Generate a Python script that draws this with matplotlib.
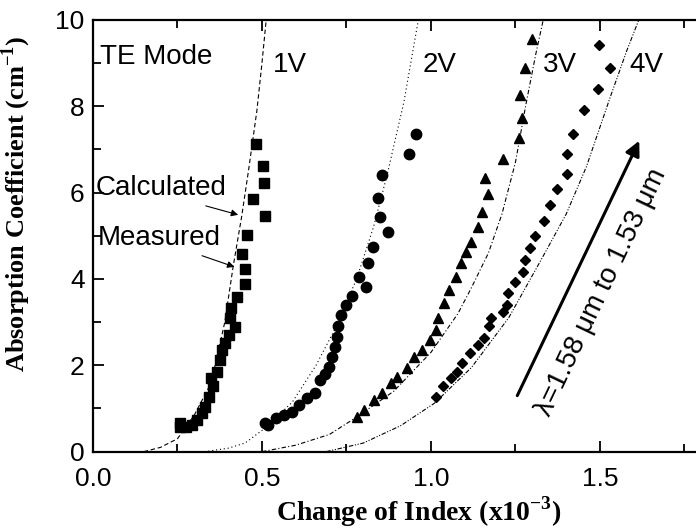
import matplotlib.pyplot as plt

# Measured absorption vs. index change, one series per bias voltage
n_1v = [0.258, 0.258, 0.275, 0.292, 0.309, 0.324, 0.332, 0.343, 0.355, 0.349, 0.366, 0.377,
        0.381, 0.390, 0.403, 0.419, 0.406, 0.408, 0.426, 0.449, 0.450, 0.441, 0.456, 0.509,
        0.474, 0.505, 0.502, 0.483]
a_1v = [0.66, 0.56, 0.58, 0.62, 0.73, 0.89, 1.04, 1.27, 1.51, 1.70, 1.85, 2.12,
        2.36, 2.51, 2.70, 2.88, 3.09, 3.32, 3.58, 3.88, 4.22, 4.58, 5.01, 5.47,
        5.85, 6.23, 6.62, 7.13]

n_2v = [0.508, 0.519, 0.542, 0.565, 0.588, 0.610, 0.633, 0.656, 0.673, 0.688, 0.699, 0.707,
        0.715, 0.722, 0.726, 0.735, 0.749, 0.765, 0.808, 0.786, 0.813, 0.828, 0.872, 0.849,
        0.843, 0.856, 0.934, 0.955]
a_2v = [0.66, 0.62, 0.77, 0.85, 0.93, 1.08, 1.24, 1.35, 1.66, 1.81, 1.97, 2.20,
        2.43, 2.66, 2.90, 3.17, 3.39, 3.61, 3.82, 4.05, 4.36, 4.75, 5.10, 5.44,
        5.88, 6.40, 6.90, 7.36]

n_3v = [0.781, 0.803, 0.832, 0.855, 0.883, 0.900, 0.928, 0.951, 0.974, 0.997, 1.014, 1.022,
        1.040, 1.053, 1.074, 1.088, 1.105, 1.119, 1.139, 1.150, 1.170, 1.159, 1.213, 1.260,
        1.269, 1.264, 1.278, 1.298]
a_3v = [0.81, 0.97, 1.20, 1.35, 1.58, 1.74, 1.93, 2.20, 2.36, 2.59, 2.82, 3.09,
        3.44, 3.75, 4.05, 4.36, 4.63, 4.86, 5.21, 5.56, 5.97, 6.33, 6.77, 7.26,
        7.72, 8.26, 8.88, 9.55]

n_4v = [1.014, 1.036, 1.059, 1.076, 1.093, 1.116, 1.139, 1.156, 1.173, 1.178, 1.213, 1.224,
        1.229, 1.249, 1.272, 1.279, 1.294, 1.309, 1.335, 1.352, 1.374, 1.402, 1.402, 1.419,
        1.453, 1.494, 1.531, 1.497]
a_4v = [1.27, 1.51, 1.70, 1.85, 2.05, 2.28, 2.47, 2.63, 2.90, 3.09, 3.24, 3.40,
        3.67, 3.92, 4.17, 4.44, 4.71, 5.00, 5.34, 5.72, 6.08, 6.43, 6.89, 7.36,
        7.92, 8.39, 8.88, 9.42]

# Calculated curves
cn_1v = [0.15, 0.20, 0.25, 0.30, 0.35, 0.39, 0.415, 0.44, 0.46, 0.485, 0.50, 0.515]
ca_1v = [0.0, 0.1, 0.3, 0.85, 1.6, 3.0, 4.3, 5.45, 6.5, 7.9, 9.0, 10.2]
cn_2v = [0.33, 0.40, 0.45, 0.51, 0.59, 0.66, 0.72, 0.78, 0.83, 0.87, 0.92, 0.965]
ca_2v = [0.0, 0.08, 0.2, 0.55, 1.15, 2.0, 2.9, 4.0, 5.2, 6.4, 8.1, 10.1]
cn_3v = [0.50, 0.60, 0.70, 0.78, 0.89, 1.00, 1.08, 1.12, 1.17, 1.21, 1.25, 1.28, 1.31, 1.335]
ca_3v = [0.0, 0.15, 0.4, 0.8, 1.4, 2.3, 3.2, 3.8, 4.6, 5.5, 6.7, 8.0, 9.2, 10.1]
cn_4v = [0.69, 0.80, 0.91, 1.01, 1.12, 1.23, 1.33, 1.40, 1.46, 1.53, 1.58, 1.62]
ca_4v = [0.0, 0.2, 0.6, 1.12, 1.95, 3.1, 4.5, 5.5, 6.6, 8.2, 9.3, 10.1]

voltage_labels = ["1V", "2V", "3V", "4V"]
label_x = [0.531, 0.974, 1.332, 1.5875]

sans = "Liberation Sans"
serif = "Liberation Serif"

fig = plt.figure(figsize=(6.96, 5.31), dpi=100)
ax = fig.add_axes([0.1336, 0.1494, 0.874, 0.813])

# calculated curves
ax.plot(cn_1v, ca_1v, color="black", lw=0.8, dashes=(4, 2.5))
ax.plot(cn_2v, ca_2v, color="black", lw=0.8, dashes=(1, 2.5))
ax.plot(cn_3v, ca_3v, color="black", lw=0.8, dashes=(4, 2, 1, 2))
ax.plot(cn_4v, ca_4v, color="black", lw=0.8, dashes=(4, 1.5, 1, 1.5, 1, 1.5))

# measured points
ax.plot(n_1v, a_1v, "s", color="black", ms=7, ls="none")
ax.plot(n_2v, a_2v, "o", color="black", ms=7.5, ls="none")
ax.plot(n_3v, a_3v, "^", color="black", ms=7.5, ls="none")
ax.plot(n_4v, a_4v, "D", color="black", ms=5.5, ls="none")

ax.set_xlim(0, 1.8)
ax.set_ylim(0, 10)
ax.set_xticks([0.0, 0.5, 1.0, 1.5])
ax.set_xticks([0.25, 0.75, 1.25, 1.75], minor=True)
ax.set_yticks([0, 2, 4, 6, 8, 10])
ax.set_yticks([1, 3, 5, 7, 9], minor=True)
ax.set_xticklabels(["0.0", "0.5", "1.0", "1.5"])
ax.tick_params(which="both", direction="in", top=True, width=1.3, labelsize=19)
ax.tick_params(axis="x", pad=11)
ax.tick_params(axis="y", pad=6)
ax.tick_params(which="major", length=8)
ax.tick_params(which="minor", length=6)
for lab in ax.get_xticklabels() + ax.get_yticklabels():
    lab.set_family(sans)
for sp in ax.spines.values():
    sp.set_linewidth(1.6)

ax.set_xlabel("Change of Index (x10$^{\\mathregular{-3}}$)", family=serif, fontweight="bold", fontsize=20)
ax.set_ylabel("Absorption Coefficient (cm$^{\\mathregular{-1}}$)", family=serif, fontweight="bold", fontsize=19)
ax.xaxis.set_label_coords(0.536, -0.1)
ax.yaxis.set_label_coords(-0.099, 0.575)

ax.text(0.02, 9.15, "TE Mode", family=sans, fontsize=20, va="center")
for lbl, lx in zip(voltage_labels, label_x):
    ax.text(lx, 8.96, lbl, family=sans, fontsize=20, va="center")

ax.text(0.008, 6.1, "Calculated", family=sans, fontsize=20, va="center")
ax.text(0.014, 4.94, "Measured", family=sans, fontsize=20, va="center")
ax.annotate("", xy=(0.4375, 5.47), xytext=(0.326, 5.71),
            arrowprops=dict(arrowstyle="-|>", lw=0.8, color="black", mutation_scale=10))
ax.annotate("", xy=(0.426, 4.26), xytext=(0.315, 4.56),
            arrowprops=dict(arrowstyle="-|>", lw=0.8, color="black", mutation_scale=10))

# wavelength sweep direction
ax.annotate("", xy=(1.62, 7.26), xytext=(1.252, 1.24),
            arrowprops=dict(arrowstyle="-|>", lw=2.2, color="black", mutation_scale=22))
ax.text(1.505, 3.7, "λ=1.58 μm to 1.53 μm", family=sans, fontsize=20,
        rotation=64.5, rotation_mode="anchor", ha="center", va="center")

plt.savefig("out.png", dpi=100)
